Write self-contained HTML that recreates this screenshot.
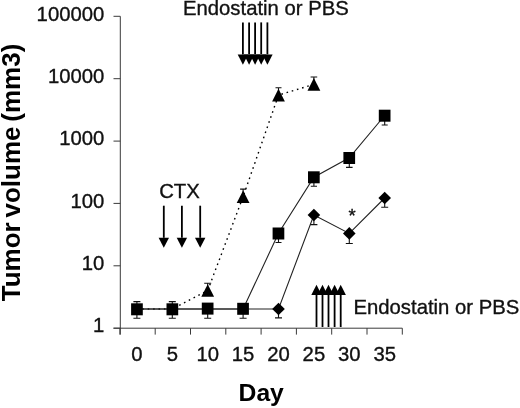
<!DOCTYPE html>
<html><head><meta charset="utf-8"><title>Chart</title><style>html,body{margin:0;padding:0;background:#fff}body{width:520px;height:408px;overflow:hidden}</style></head><body>
<svg width="520" height="408" viewBox="0 0 520 408" style="display:block">
<rect width="520" height="408" fill="#fff"/>
<g stroke="#3a3a3a" stroke-width="1" fill="none">
<path d="M120.3 16.3V334.6M113.5 328.2H402.3"/>
<path d="M113.5 16.3H120.3"/>
<path d="M113.5 78.7H120.3"/>
<path d="M113.5 141.1H120.3"/>
<path d="M113.5 203.4H120.3"/>
<path d="M113.5 265.8H120.3"/>
<path d="M113.5 328.2H120.3"/>
<path d="M119.9 328.2V334.6"/>
<path d="M155.2 328.2V334.6"/>
<path d="M190.5 328.2V334.6"/>
<path d="M225.8 328.2V334.6"/>
<path d="M261.1 328.2V334.6"/>
<path d="M296.4 328.2V334.6"/>
<path d="M331.7 328.2V334.6"/>
<path d="M367.0 328.2V334.6"/>
<path d="M402.3 328.2V334.6"/>
</g>
<g font-family="Liberation Sans, sans-serif" font-size="20.3" fill="#111" stroke="#111" stroke-width="0.35" text-anchor="end">
<text x="104.3" y="20.5">100000</text>
<text x="104.3" y="82.9">10000</text>
<text x="104.3" y="145.3">1000</text>
<text x="104.3" y="207.6">100</text>
<text x="104.3" y="270.0">10</text>
<text x="104.3" y="332.4">1</text>
</g>
<g font-family="Liberation Sans, sans-serif" font-size="20.3" fill="#111" stroke="#111" stroke-width="0.35" text-anchor="middle">
<text x="136.9" y="361.3">0</text>
<text x="172.3" y="361.3">5</text>
<text x="207.7" y="361.3">10</text>
<text x="243.1" y="361.3">15</text>
<text x="278.5" y="361.3">20</text>
<text x="313.9" y="361.3">25</text>
<text x="349.3" y="361.3">30</text>
<text x="384.7" y="361.3">35</text>
</g>
<text x="261.2" y="401.2" font-family="Liberation Sans, sans-serif" font-weight="bold" font-size="24.7" fill="#000" text-anchor="middle">Day</text>
<text transform="translate(19.6 172.5) rotate(-90)" font-family="Liberation Sans, sans-serif" font-weight="bold" font-size="26" word-spacing="-2.4" fill="#000" text-anchor="middle">Tumor volume (mm3)</text>
<g font-family="Liberation Sans, sans-serif" font-size="20.3" fill="#111" stroke="#111" stroke-width="0.35">
<text x="183" y="15.3">Endostatin or PBS</text>
<text x="353.5" y="314.3">Endostatin or PBS</text>
<text x="159.2" y="198.3">CTX</text>
<text x="348.6" y="221.6" font-size="18.5">*</text>
</g>
<path d="M242.9 22.4V54.4" stroke="#000" stroke-width="1.8"/><path d="M237.70000000000002 54.4H248.1L242.9 64.7Z" fill="#000"/>
<path d="M249.1 22.4V54.4" stroke="#000" stroke-width="1.8"/><path d="M243.9 54.4H254.29999999999998L249.1 64.7Z" fill="#000"/>
<path d="M255.1 22.4V54.4" stroke="#000" stroke-width="1.8"/><path d="M249.9 54.4H260.3L255.1 64.7Z" fill="#000"/>
<path d="M261.2 22.4V54.4" stroke="#000" stroke-width="1.8"/><path d="M256.0 54.4H266.4L261.2 64.7Z" fill="#000"/>
<path d="M267.4 22.4V54.4" stroke="#000" stroke-width="1.8"/><path d="M262.2 54.4H272.59999999999997L267.4 64.7Z" fill="#000"/>
<path d="M163.8 205.7V237.8" stroke="#000" stroke-width="1.8"/><path d="M158.60000000000002 237.8H169.0L163.8 247.8Z" fill="#000"/>
<path d="M181.9 205.7V237.8" stroke="#000" stroke-width="1.8"/><path d="M176.70000000000002 237.8H187.1L181.9 247.8Z" fill="#000"/>
<path d="M200.2 205.7V237.8" stroke="#000" stroke-width="1.8"/><path d="M195.0 237.8H205.39999999999998L200.2 247.8Z" fill="#000"/>
<path d="M316.5 327V295" stroke="#000" stroke-width="1.8"/><path d="M311.3 295H321.7L316.5 284.7Z" fill="#000"/>
<path d="M322.5 327V295" stroke="#000" stroke-width="1.8"/><path d="M317.3 295H327.7L322.5 284.7Z" fill="#000"/>
<path d="M328.5 327V295" stroke="#000" stroke-width="1.8"/><path d="M323.3 295H333.7L328.5 284.7Z" fill="#000"/>
<path d="M334.6 327V295" stroke="#000" stroke-width="1.8"/><path d="M329.40000000000003 295H339.8L334.6 284.7Z" fill="#000"/>
<path d="M340.7 327V295" stroke="#000" stroke-width="1.8"/><path d="M335.5 295H345.9L340.7 284.7Z" fill="#000"/>
<path d="M136.9 309.0L172.3 309.0L207.7 290.5L243.1 196.7L278.5 95.1L313.9 84.4" fill="none" stroke="#000" stroke-width="1.4" stroke-dasharray="1.6 3.8"/>
<path d="M136.9 309.0L172.3 309.0L207.7 309.0L243.1 309.0L278.5 233.3L313.9 177.2L349.3 157.8L384.7 115.5" fill="none" stroke="#222" stroke-width="1.1"/>
<path d="M136.9 309.0L278.5 309.0L313.9 215.0L349.3 233.4L384.7 198.0" fill="none" stroke="#222" stroke-width="1.1"/>
<path d="M136.9 309V301.6M133.4 301.6H140.4" stroke="#111" stroke-width="1.1" fill="none"/>
<path d="M136.9 309V318.2M133.4 318.2H140.4" stroke="#111" stroke-width="1.1" fill="none"/>
<path d="M172.3 309V301.6M168.8 301.6H175.8" stroke="#111" stroke-width="1.1" fill="none"/>
<path d="M172.3 309V318.2M168.8 318.2H175.8" stroke="#111" stroke-width="1.1" fill="none"/>
<path d="M207.7 309V318.2M204.2 318.2H211.2" stroke="#111" stroke-width="1.1" fill="none"/>
<path d="M243.1 309V318.2M239.6 318.2H246.6" stroke="#111" stroke-width="1.1" fill="none"/>
<path d="M207.7 291V283.2M204.2 283.2H211.2" stroke="#111" stroke-width="1.1" fill="none"/>
<path d="M243.1 196V189.1M240.1 189.1H246.1" stroke="#111" stroke-width="1.1" fill="none"/>
<path d="M278.5 95V87.7M275.5 87.7H281.5" stroke="#111" stroke-width="1.1" fill="none"/>
<path d="M313.9 84V77M310.6 77H317.2" stroke="#111" stroke-width="1.1" fill="none"/>
<path d="M278.5 233V242.5M275.5 242.5H281.5" stroke="#111" stroke-width="1.1" fill="none"/>
<path d="M313.9 177V186.3M310.8 186.3H317.0" stroke="#111" stroke-width="1.1" fill="none"/>
<path d="M349.3 158V167.4M346.0 167.4H352.6" stroke="#111" stroke-width="1.1" fill="none"/>
<path d="M384.7 115V125M381.7 125H387.7" stroke="#111" stroke-width="1.1" fill="none"/>
<path d="M278.5 309V317.9M275.0 317.9H282.0" stroke="#111" stroke-width="1.1" fill="none"/>
<path d="M313.9 215V224.6M310.4 224.6H317.4" stroke="#111" stroke-width="1.1" fill="none"/>
<path d="M349.3 233V243.5M345.8 243.5H352.8" stroke="#111" stroke-width="1.1" fill="none"/>
<path d="M384.7 198V207.3M381.2 207.3H388.2" stroke="#111" stroke-width="1.1" fill="none"/>
<path d="M207.7 284.2L214.1 296.8H201.3Z" fill="#000"/>
<path d="M243.1 190.4L249.5 203.0H236.7Z" fill="#000"/>
<path d="M278.5 88.8L284.9 101.4H272.1Z" fill="#000"/>
<path d="M313.9 78.1L320.3 90.7H307.5Z" fill="#000"/>
<rect x="131.1" y="303.3" width="11.7" height="12" fill="#000"/>
<rect x="166.5" y="303.3" width="11.7" height="12" fill="#000"/>
<rect x="201.8" y="302.6" width="11.7" height="12" fill="#000"/>
<rect x="237.2" y="302.8" width="11.7" height="12" fill="#000"/>
<rect x="272.6" y="227.5" width="11.7" height="12" fill="#000"/>
<rect x="308.0" y="171.3" width="11.7" height="12" fill="#000"/>
<rect x="343.4" y="152.0" width="11.7" height="12" fill="#000"/>
<rect x="378.8" y="109.7" width="11.7" height="12" fill="#000"/>
<path d="M278.5 302.7L284.8 309.0L278.5 315.3L272.2 309.0Z" fill="#000"/>
<path d="M313.9 208.7L320.2 215.0L313.9 221.3L307.6 215.0Z" fill="#000"/>
<path d="M349.3 227.1L355.6 233.4L349.3 239.7L343.0 233.4Z" fill="#000"/>
<path d="M384.7 191.7L391.0 198.0L384.7 204.3L378.4 198.0Z" fill="#000"/>
</svg>
</body></html>
